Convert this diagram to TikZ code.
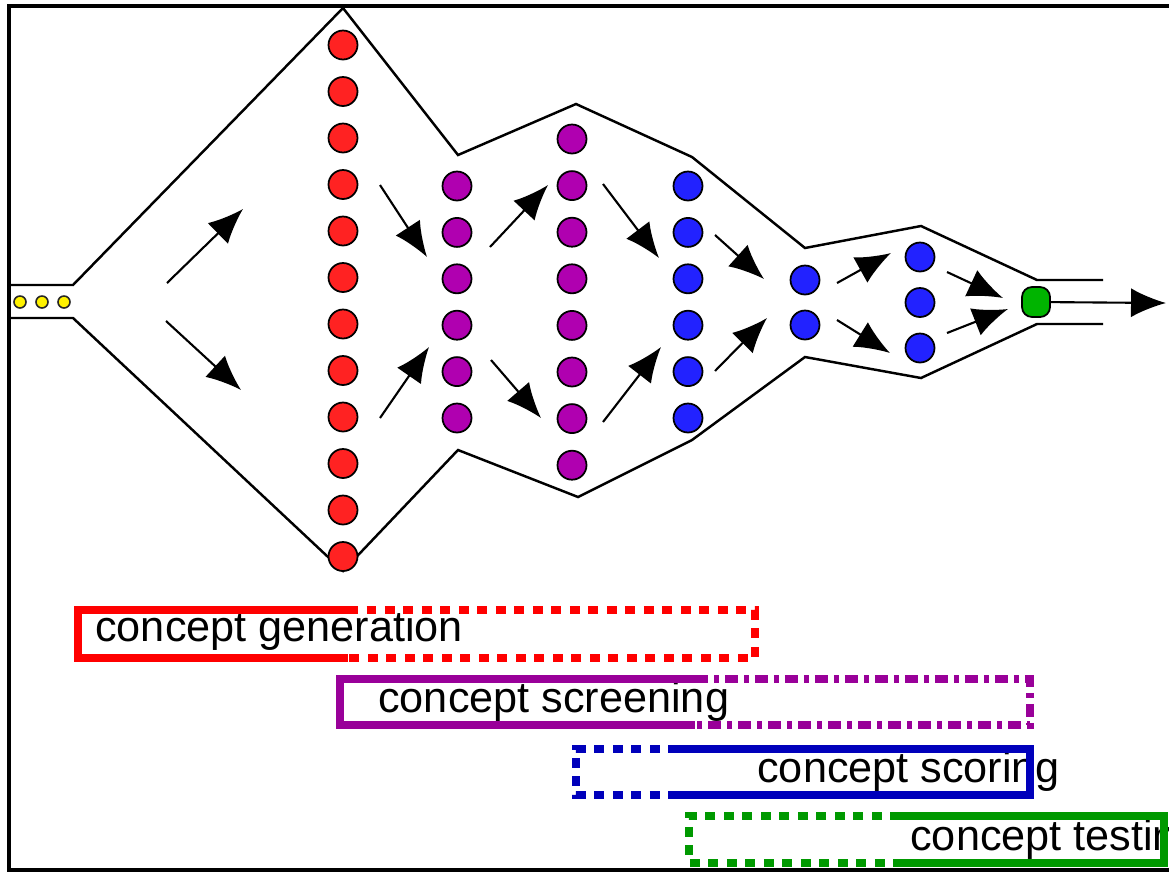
\documentclass[tikz,border=0pt]{standalone}
\usepackage{fontspec}
\setmainfont{Liberation Sans}
\usetikzlibrary{arrows.meta}
\definecolor{gencol}{RGB}{255,0,0}
\definecolor{screencol}{RGB}{153,0,153}
\definecolor{scorecol}{RGB}{0,0,187}
\definecolor{testcol}{RGB}{0,153,0}
\definecolor{ideared}{RGB}{255,34,34}
\definecolor{ideapurple}{RGB}{176,0,176}
\definecolor{ideablue}{RGB}{34,34,255}
\definecolor{ideagreen}{RGB}{0,180,0}
\tikzset{>=latex}
\tikzset{
  idea/.style={circle,draw=black,line width=1pt,inner sep=0pt,minimum size=0.58cm},
  seed/.style={circle,draw=black!85,fill=yellow,line width=0.9pt,inner sep=0pt,minimum size=0.24cm},
  winner/.style={rectangle,rounded corners=0.2cm,draw=black,line width=1pt,fill=ideagreen,inner sep=0pt,minimum width=0.56cm,minimum height=0.6cm},
  funnel/.style={line width=1.4pt},
  flow/.style={-{Latex[length=0.7cm,width=0.58cm]},line width=1.2pt},
  phase/.style={line width=0.17cm},
  phase dashed/.style={phase,dash pattern=on 0.2cm off 0.17cm},
  phase dashdot/.style={phase,dash pattern=on 0.26cm off 0.12cm on 0.1cm off 0.12cm},
  phasetext/.style={anchor=base west,inner sep=0pt,font=\fontsize{24.6pt}{29pt}\selectfont}
}
\begin{document}
\begin{tikzpicture}[x=0.02cm,y=-0.02cm]
  \useasboundingbox (0,0) rectangle (1169,873);
  \clip (0,0) rectangle (1169,873);
  \fill[white] (0,0) rectangle (1169,873);

  % frame (runs off to the right)
  \draw[line width=1.8pt] (1300,6) -- (9,6) -- (9,870) -- (1300,870);

  % funnel outline
  \draw[funnel] (9,285) -- (73,285) -- (343,8) -- (458,155) -- (576,104) -- (692,157)
    -- (805,248) -- (921,226) -- (1037,280) -- (1103,280);
  \draw[funnel] (9,318) -- (73,318) -- (343,571) -- (458,450) -- (578,497) -- (692,440)
    -- (805,357) -- (921,378) -- (1037,324) -- (1103,324);

  % incoming needs
  \foreach \i/\x in {1/20,2/42,3/64}
    \node[seed] (s\i) at (\x,302) {};

  % idea columns
  \foreach \i in {0,...,11}
    \node[idea,fill=ideared] (g\i) at (343,45+46.5*\i) {};
  \foreach \i in {0,...,5}
    \node[idea,fill=ideapurple] (p\i) at (457,186+46.4*\i) {};
  \foreach \i in {0,...,7}
    \node[idea,fill=ideapurple] (q\i) at (572,139+46.6*\i) {};
  \foreach \i in {0,...,5}
    \node[idea,fill=ideablue] (b\i) at (688,186+46.4*\i) {};
  \foreach \i in {0,1}
    \node[idea,fill=ideablue] (c\i) at (805,280+45*\i) {};
  \foreach \i in {0,1,2}
    \node[idea,fill=ideablue] (d\i) at (920,257+45.5*\i) {};
  \node[winner] (win) at (1036,302) {};

  % narrowing steps
  \foreach \sx/\sy/\ex/\ey in {167/283/243/209, 166/321/241/390, 380/185/427/257,
      380/418/429/347, 490/247/548/185, 491/360/541/418, 603/184/659/258,
      603/422/661/347, 715/235/764/279, 715/371/767/318, 837/283/891/253,
      837/320/890/353, 947/272/1003/298, 947/333/1008/309}
    \draw[flow] (\sx,\sy) -- (\ex,\ey);

  \coordinate (out) at (1166,303);
  \draw[flow] (win) -- (out);

  % phase bars
  \node[phasetext] (gen) at (95,641) {concept generation};
  \draw[phase,gencol] (348,610) -- (78,610) -- (78,658) -- (348,658);
  \draw[phase dashed,gencol] (348,610) -- (755,610) -- (755,658) -- (348,658);

  \node[phasetext] (scr) at (378,712) {concept screening};
  \draw[phase,screencol] (695,679) -- (340,679) -- (340,725) -- (695,725);
  \draw[phase dashdot,screencol] (695,679) -- (1030,679) -- (1030,725) -- (695,725);

  \node[phasetext] (sco) at (757,782) {concept scoring};
  \draw[phase dashed,scorecol] (678,749) -- (576,749) -- (576,795) -- (678,795);
  \draw[phase,scorecol] (678,749) -- (1030,749) -- (1030,795) -- (678,795);

  \node[phasetext] (tst) at (910,850) {concept testing};
  \draw[phase dashed,testcol] (900,816) -- (689,816) -- (689,863) -- (900,863);
  \draw[phase,testcol] (900,816) -- (1164,816) -- (1164,863) -- (900,863);
\end{tikzpicture}
\end{document}
